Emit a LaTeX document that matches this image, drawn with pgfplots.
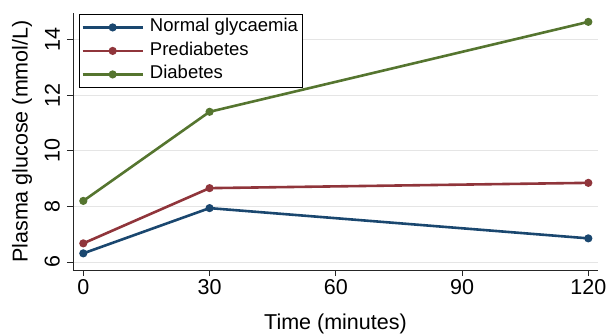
\documentclass[border=0pt]{standalone}
\usepackage{fontspec}
\setmainfont{Liberation Sans}
\usepackage{pgfplots}
\pgfplotsset{compat=1.18}
\definecolor{snavy}{RGB}{26,71,111}
\definecolor{smaroon}{RGB}{144,53,59}
\definecolor{sforest}{RGB}{85,117,47}
\begin{document}
\begin{tikzpicture}
\begin{axis}[name=ax, scale only axis, width=525pt, height=257pt,
  xmin=-2.45, xmax=122.3, ymin=5.71, ymax=14.97,
  axis lines*=left,
  axis line style={black!85, line width=0.9pt},
  xtick={0,30,60,90,120}, ytick={6,8,10,12,14},
  tick align=outside, major tick length=6pt,
  tick style={black!85, line width=0.9pt},
  ymajorgrids, grid style={black!10, line width=0.9pt},
  /pgf/number format/assume math mode=true,
  tick label style={font=\fontsize{21.5}{24}\selectfont},
  yticklabel style={rotate=90, anchor=south, inner sep=2pt, yshift=5pt},
  xticklabel style={anchor=north, inner sep=3pt},
  xlabel={Time (minutes)},
  ylabel={Plasma glucose (mmol/L)},
  label style={font=\fontsize{21.5}{24}\selectfont},
  xlabel style={at={(axis description cs:0.5,0)}, anchor=base, yshift=-59pt},
  ylabel style={at={(axis description cs:0,0.5)}, anchor=center, yshift=51pt},
  every axis plot/.append style={line width=2.6pt, mark=*, mark size=2.7pt},
  legend image code/.code={\draw[mark repeat=2,mark phase=2,#1,line width=2.6pt] plot coordinates {(0pt,0pt)(30pt,0pt)(60pt,0pt)};},
  legend style={at={(axis description cs:0.0114,0.996)}, anchor=north west,
    draw=black, line width=0.8pt, inner sep=2pt,
    font=\fontsize{18.5}{22}\selectfont, row sep=1.5pt,
    nodes={inner sep=2pt, text height=13.5pt, text depth=4.5pt},
    cells={anchor=west}},
  legend cell align=left,
]
\addplot[color=snavy] coordinates {(0,6.31) (30,7.94) (120,6.85)};
\addlegendentry{\hspace{4pt}Normal glycaemia}
\addplot[color=smaroon] coordinates {(0,6.67) (30,8.66) (120,8.85)};
\addlegendentry{\hspace{4pt}Prediabetes}
\addplot[color=sforest] coordinates {(0,8.20) (30,11.41) (120,14.65)};
\addlegendentry{\hspace{4pt}Diabetes}
\end{axis}
\pgfresetboundingbox
\path[use as bounding box] ([shift={(-73pt,-63pt)}]ax.south west) rectangle ([shift={(10pt,13pt)}]ax.north east);
\end{tikzpicture}
\end{document}
